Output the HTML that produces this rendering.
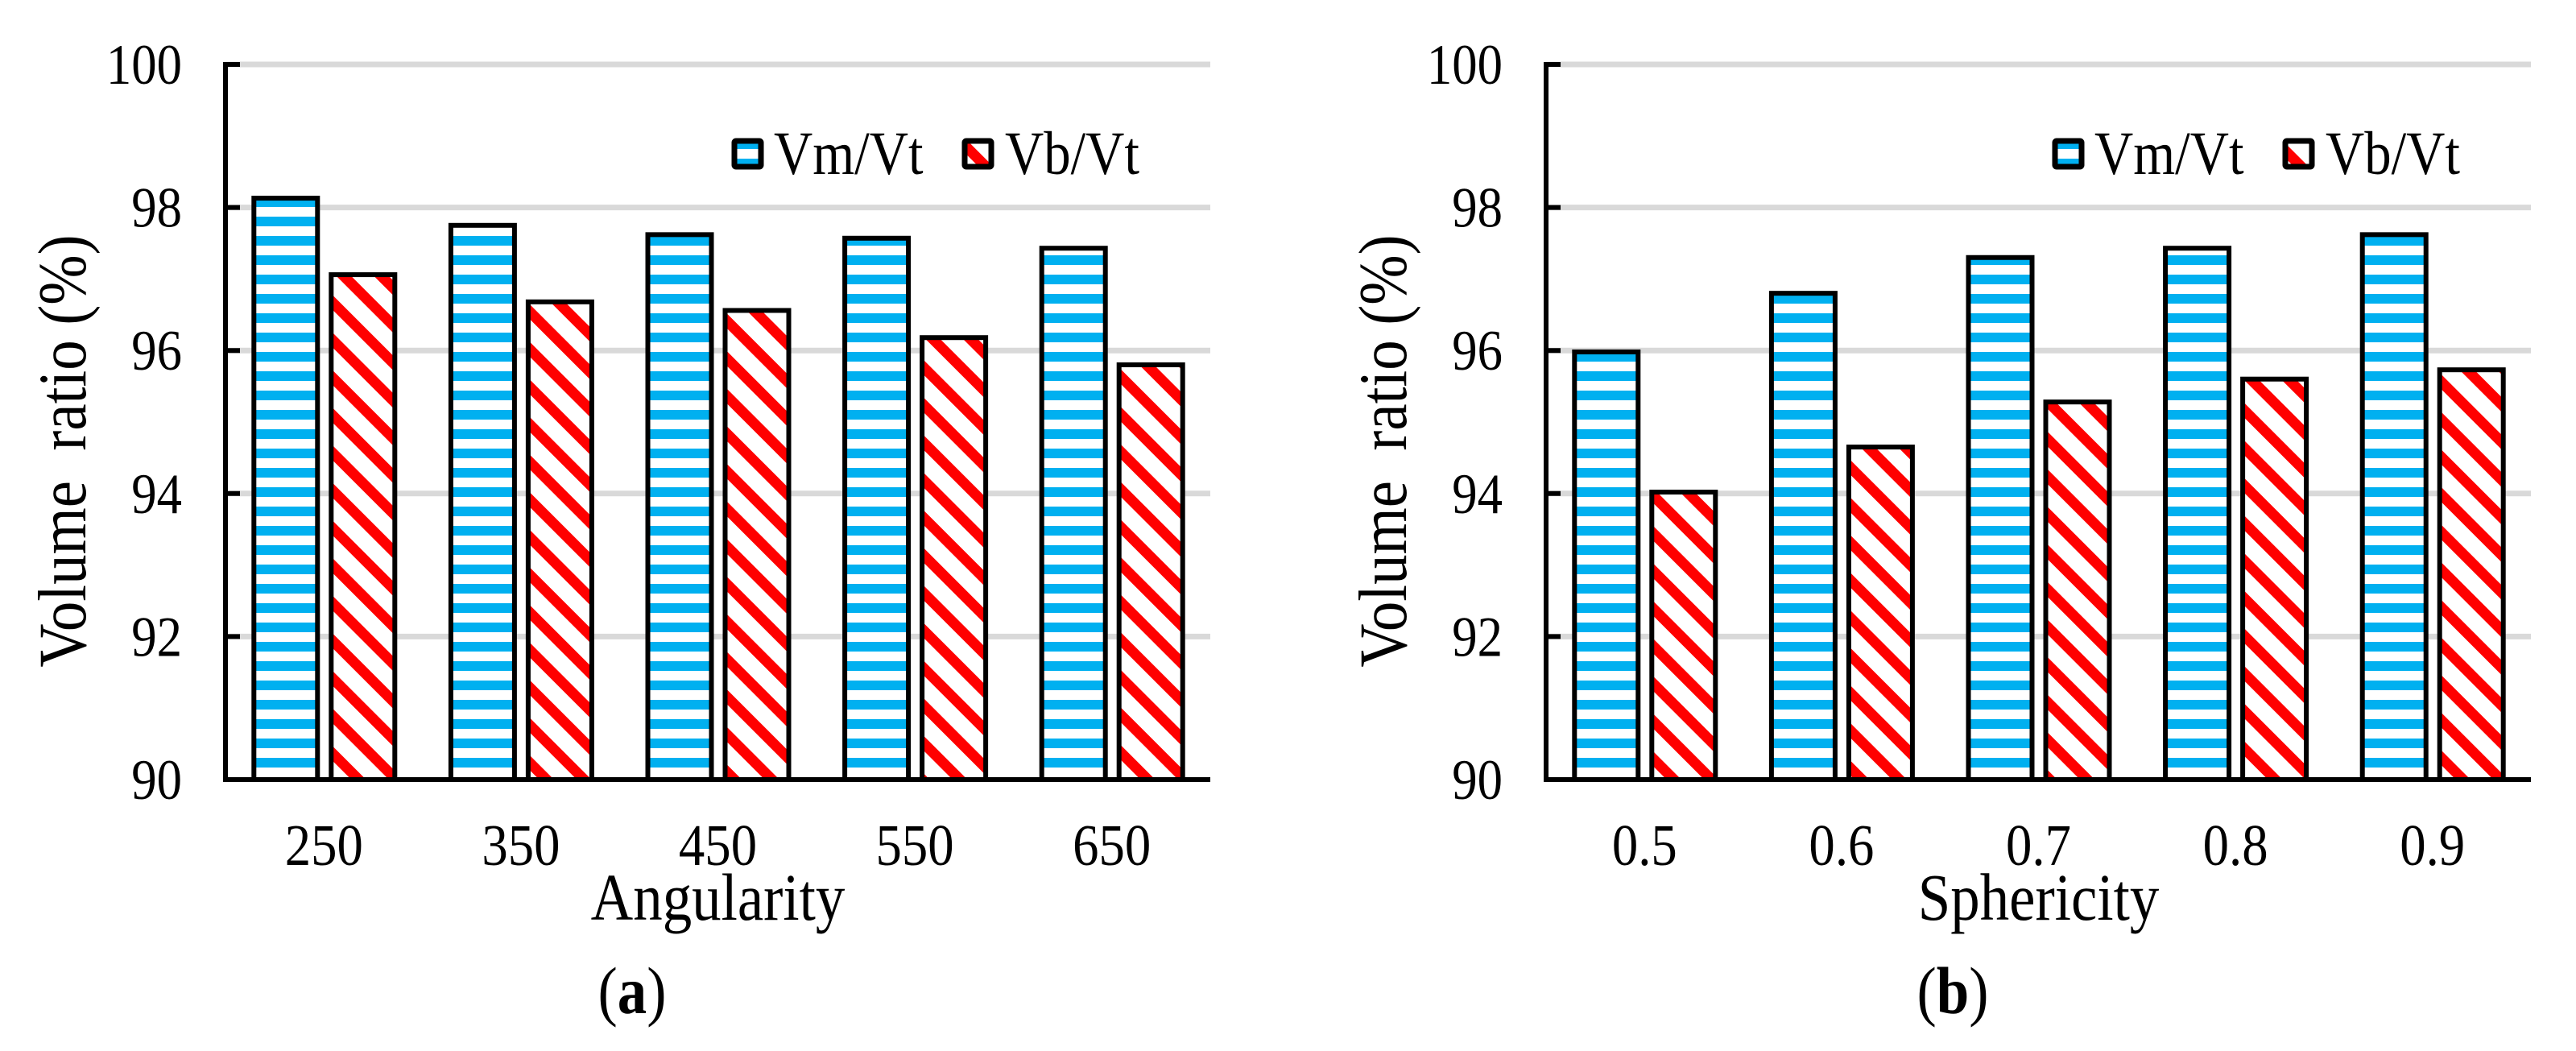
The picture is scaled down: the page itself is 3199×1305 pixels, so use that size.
<!DOCTYPE html>
<html><head><meta charset="utf-8"><style>
html,body{margin:0;padding:0;background:#fff;}
svg{display:block;}
text{font-family:"Liberation Serif",serif;fill:#000;}
</style></head><body>
<svg id="fig" width="3199" height="1305" viewBox="0 0 3199 1305" xmlns="http://www.w3.org/2000/svg">
<defs>
<pattern id="hstripe" patternUnits="userSpaceOnUse" width="24" height="24" y="5">
<rect width="24" height="24" fill="#fff"/><rect width="24" height="12" fill="#00b0f0"/>
</pattern>
<pattern id="dstripe" patternUnits="userSpaceOnUse" width="33" height="33" patternTransform="rotate(45)">
<rect width="33" height="33" fill="#fff"/><rect width="33" height="13" fill="#ff0000"/>
</pattern>
</defs>
</svg>
<script>
const catsA = ["250","350","450","550","650"];
const vmA = [98.13, 97.75, 97.62, 97.57, 97.43];
const vbA = [97.06, 96.68, 96.56, 96.18, 95.80];
const catsB = ["0.5","0.6","0.7","0.8","0.9"];
const vmB = [95.98, 96.80, 97.30, 97.43, 97.62];
const vbB = [94.02, 94.65, 95.28, 95.60, 95.73];
const yTicks = [90, 92, 94, 96, 98, 100];

const NS = "http://www.w3.org/2000/svg";
const svg = document.getElementById("fig");
function mk(tag, attrs, parent) {
  const e = document.createElementNS(NS, tag);
  for (const k in attrs) e.setAttribute(k, attrs[k]);
  (parent || svg).appendChild(e);
  return e;
}
function txt(parent, x, y, size, anchor, rot) {
  const tr = "translate(" + x + "," + y + ")" + (rot ? " rotate(-90)" : "") + " scale(0.88,1)";
  return mk("text", {x: 0, y: 0, "text-anchor": anchor, "font-size": size * 1.15, transform: tr}, parent);
}

function panel(off, cats, vm, vb, xTitle, letter, key) {
  const g = mk("g", {});
  
  
  const x0 = 280 + off, x1 = 1503 + off;
  const yOf = v => 968 - (v - 90) * 88.8;
  const band = (x1 - x0) / cats.length;
  const cx = i => x0 + band * (i + 0.5);
  yTicks.forEach(t => {
    if (t === 90) return;
    const gl = mk("line", {x1: x0, x2: x1, y1: yOf(t), y2: yOf(t), stroke: "#d9d9d9", "stroke-width": 7}, g);
    
    
    const tk = mk("line", {x1: x0, x2: x0 + 18, y1: yOf(t), y2: yOf(t), stroke: "#000", "stroke-width": 6}, g);
    
    
  });
  yTicks.forEach(t => {
    const tl = txt(g, 226 + off, yOf(t) + 24, 62, "end");
    tl.textContent = String(t);
    
    
  });
  cats.forEach((c, i) => {
    const b1 = mk("rect", {x: cx(i) - 87, y: yOf(vm[i]), width: 79, height: yOf(90) - yOf(vm[i]), fill: "url(#hstripe)", stroke: "#000", "stroke-width": 6}, g);
    
    
    const b2 = mk("rect", {x: cx(i) + 9, y: yOf(vb[i]), width: 79, height: yOf(90) - yOf(vb[i]), fill: "url(#dstripe)", stroke: "#000", "stroke-width": 6}, g);
    
    
    const xl = txt(g, cx(i), 1074, 64, "middle");
    xl.textContent = c;
    
    
  });
  const ya = mk("line", {x1: x0, x2: x0, y1: yOf(100) - 3, y2: yOf(90) + 3, stroke: "#000", "stroke-width": 6}, g);
  
  
  const xa = mk("line", {x1: x0 - 3, x2: x1, y1: yOf(90), y2: yOf(90), stroke: "#000", "stroke-width": 6}, g);
  
  
  const yt = txt(g, 106 + off, 560, 74, "middle", true);
  yt.style.whiteSpace = "pre";
  yt.textContent = "Volume  ratio (%)";
  
  
  const xt = txt(g, (x0 + x1) / 2, 1142, 72, "middle");
  xt.textContent = xTitle;
  
  
  const pl = txt(g, 785 + off, 1258, 72, "middle");
  const s1 = mk("tspan", {}, pl); s1.textContent = "(";
  const s2 = mk("tspan", {"font-weight": "bold"}, pl); s2.textContent = letter;
  const s3 = mk("tspan", {}, pl); s3.textContent = ")";
  
  
  const lg = mk("g", {}, g);
  
  
  const s = mk("rect", {x: 912 + off, y: 175, width: 33, height: 32, fill: "url(#hstripe)", stroke: "#000", "stroke-width": 7, rx: 2}, lg);
  
  
  const t1 = txt(lg, 961 + off, 216, 66, "start");
  t1.textContent = "Vm/Vt";
  
  
  const s4 = mk("rect", {x: 1198 + off, y: 175, width: 33, height: 32, fill: "url(#dstripe)", stroke: "#000", "stroke-width": 7, rx: 2}, lg);
  
  
  const t2 = txt(lg, 1248 + off, 216, 66, "start");
  t2.textContent = "Vb/Vt";
  
  
}
panel(0, catsA, vmA, vbA, "Angularity", "a", "a");
panel(1640, catsB, vmB, vbB, "Sphericity", "b", "b");
</script>
</body></html>
